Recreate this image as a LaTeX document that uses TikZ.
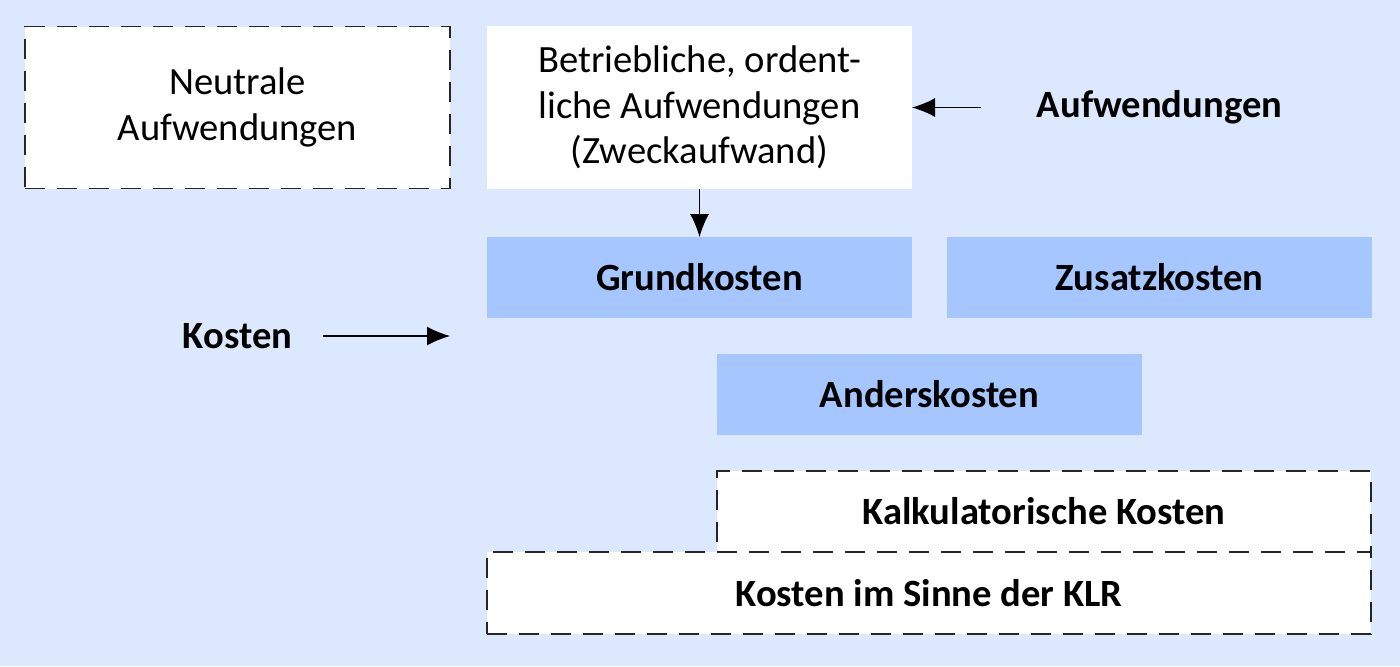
\documentclass[tikz,border=0pt]{standalone}
\usepackage{fontspec}
\setmainfont{Carlito}
\usetikzlibrary{positioning,calc,arrows.meta}

\definecolor{hgblau}{RGB}{220,232,253}
\definecolor{kostblau}{RGB}{166,198,255}
\newcommand{\schrift}{\fontsize{19.3}{22.75}\selectfont}

\tikzset{
  kasten/.style={minimum width=212.5pt, minimum height=40.5pt, inner sep=0pt,
    outer sep=0pt, align=center, font=\schrift\bfseries},
  kost/.style={kasten, fill=kostblau},
  gestrichelt/.style={kasten, fill=white, draw=black!85, line width=0.8pt,
    dash pattern=on 10pt off 6pt},
  marke/.style={font=\schrift\bfseries},
  pfeil/.style={-{Latex[length=11.5pt,width=9.5pt]}, line width=0.65pt},
}

\begin{document}
\begin{tikzpicture}[node distance=18pt]

  \fill[hgblau] (0,0) rectangle (700pt,-333pt);
  \useasboundingbox (0,0) rectangle (700pt,-333pt);

  \node[kasten, fill=white, font=\schrift, minimum height=81.5pt] (betrieb)
    at (349.75pt,-53.75pt) {Betriebliche, ordent-\\liche Aufwendungen\\(Zweckaufwand)};
    \node[gestrichelt, font=\schrift, minimum height=81pt] (neutral)
      [left=18.5pt of betrieb] {Neutrale\\Aufwendungen};

  \node[kost] (grund) [below=24pt of betrieb] {Grundkosten};
  \node[kost] (zusatz) [right=17.5pt of grund] {Zusatzkosten};

  \coordinate (mitte) at ($(grund.south)!0.5!(zusatz.south)$);
  \node[kost] (anders) [below=18pt of mitte] {Anderskosten};

  \node[gestrichelt, minimum width=327pt] (kalk)
    [below=18pt of anders.south west, anchor=north west] {Kalkulatorische Kosten};
  \node[gestrichelt, minimum width=442pt, minimum height=41pt] (klr)
    [below=0pt of kalk.south east, anchor=north east] {Kosten im Sinne der KLR};

  \node[marke] (aufw) at (zusatz |- betrieb) {Aufwendungen};
    \coordinate[left=24.5pt of aufw.west] (astart);
    \draw[pfeil] (astart) -- (betrieb.east);

  \coordinate (kmitte) at ($(grund.south)!0.5!(anders.north)$);
  \node[marke] (kosten) at (neutral |- kmitte) {Kosten};
    \coordinate[right=12pt of kosten.east] (kstart);
    \coordinate (kende) at (neutral.east |- kosten);
    \draw[pfeil] (kstart) -- (kende);

  \draw[pfeil] (betrieb) -- (grund);

\end{tikzpicture}
\end{document}
